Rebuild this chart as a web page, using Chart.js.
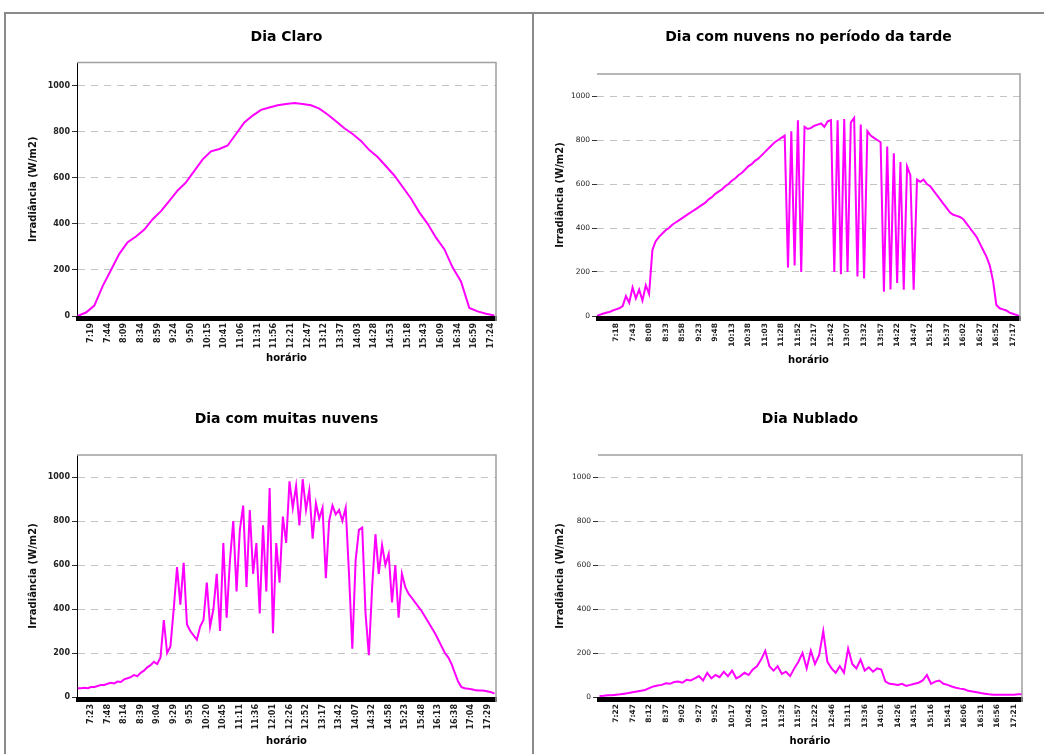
<!DOCTYPE html>
<html>
<head>
<meta charset="utf-8">
<script src="https://cdn.jsdelivr.net/npm/chart.js@4"></script>
<style>
  body { margin: 0; background: #fff; width: 1044px; height: 754px; overflow: hidden; position: relative; }
  .linha { position: absolute; background: #8a8a8a; }
  .caixa { position: absolute; }
</style>
</head>
<body>
<div class="linha" style="left:4px;top:12px;width:1040px;height:2px"></div>
<div class="linha" style="left:4px;top:12px;width:2px;height:742px"></div>
<div class="linha" style="left:532px;top:12px;width:2px;height:742px"></div>

<div class="caixa" style="left:8px;top:16px;width:522px;height:360px"><canvas id="claro"></canvas></div>
<div class="caixa" style="left:538px;top:16px;width:500px;height:360px"><canvas id="tarde"></canvas></div>
<div class="caixa" style="left:8px;top:396px;width:522px;height:358px"><canvas id="muitas"></canvas></div>
<div class="caixa" style="left:538px;top:396px;width:500px;height:358px"><canvas id="nublado"></canvas></div>

<script>
// rótulos do eixo x (um a cada ~25 min)
const rotulosClaro = ['7:19','7:44','8:09','8:34','8:59','9:24','9:50','10:15','10:41','11:06','11:31','11:56','12:21','12:47','13:12','13:37','14:03','14:28','14:53','15:18','15:43','16:09','16:34','16:59','17:24'];
const rotulosTarde = ['7:18','7:43','8:08','8:33','8:58','9:23','9:48','10:13','10:38','11:03','11:28','11:52','12:17','12:42','13:07','13:32','13:57','14:22','14:47','15:12','15:37','16:02','16:27','16:52','17:17'];
const rotulosMuitas = ['7:23','7:48','8:14','8:39','9:04','9:29','9:55','10:20','10:45','11:11','11:36','12:01','12:26','12:52','13:17','13:42','14:07','14:32','14:58','15:23','15:48','16:13','16:38','17:04','17:29'];
const rotulosNublado = ['7:22','7:47','8:12','8:37','9:02','9:27','9:52','10:17','10:42','11:07','11:32','11:57','12:22','12:46','13:11','13:36','14:01','14:26','14:51','15:16','15:41','16:06','16:31','16:56','17:21'];

// irradiância (W/m2), amostras a cada "passo" (em intervalos de rótulo)
const claroInicio = -0.8, claroPasso = 0.5;
const irradClaro = [
  0, 15, 45, 130, 200, 270, 320, 345, 375, 420,
  455, 500, 545, 580, 630, 680, 715, 725, 740, 790,
  840, 870, 895, 905, 915, 920, 925, 920, 915, 900,
  875, 845, 815, 790, 760, 720, 690, 650, 610, 560,
  510, 450, 400, 340, 290, 210, 150, 35, 20, 10,
  2
];

const tardeInicio = -1.2, tardePasso = 0.2;
const irradTarde = [
  0, 5, 10, 15, 18, 25, 30, 35, 45, 90,
  60, 130, 80, 120, 70, 140, 100, 300, 340, 360,
  375, 390, 400, 415, 425, 435, 445, 455, 465, 475,
  485, 495, 505, 515, 530, 540, 555, 565, 575, 590,
  600, 615, 625, 640, 650, 665, 680, 690, 705, 715,
  730, 745, 760, 775, 790, 800, 810, 820, 220, 840,
  230, 890, 200, 860, 850, 855, 865, 870, 875, 860,
  885, 890, 200, 890, 190, 895, 200, 880, 900, 180,
  870, 170, 840, 820, 810, 800, 790, 110, 770, 120,
  740, 150, 700, 120, 680, 640, 120, 620, 610, 620,
  600, 590, 570, 550, 530, 510, 490, 470, 460, 455,
  450, 440, 420, 400, 380, 360, 330, 300, 270, 230,
  160, 50, 35, 30, 25, 15, 10, 5, 0
];

const muitasInicio = -0.8, muitasPasso = 0.2;
const irradMuitas = [
  40, 40, 42, 40, 45, 45, 50, 55, 55, 60,
  65, 62, 70, 68, 80, 85, 90, 100, 95, 110,
  120, 135, 145, 160, 150, 180, 350, 200, 230, 400,
  590, 420, 610, 330, 300, 280, 260, 320, 350, 520,
  320, 400, 560, 300, 700, 360, 620, 800, 480, 760,
  870, 500, 850, 560, 700, 380, 780, 480, 950, 290,
  700, 520, 820, 700, 980, 860, 960, 780, 990, 850,
  940, 720, 880, 810, 860, 540, 800, 870, 830, 850,
  800, 860, 560, 220, 620, 760, 770, 380, 190, 500,
  740, 560, 690, 600, 650, 430, 600, 360, 560, 500,
  470, 450, 430, 410, 390, 365, 340, 315, 290, 260,
  230, 200, 180, 150, 110, 70, 45, 40, 38, 35,
  32, 30, 30, 28, 25, 22, 15
];

const nubladoInicio = -1.0, nubladoPasso = 0.25;
const irradNublado = [
  5, 6, 8, 8, 10, 12, 15, 18, 22, 25,
  28, 32, 40, 48, 52, 55, 62, 60, 68, 70,
  65, 78, 75, 85, 95, 75, 110, 85, 100, 90,
  115, 95, 120, 85, 95, 110, 100, 125, 140, 170,
  210, 140, 120, 140, 105, 115, 95, 130, 160, 200,
  130, 210, 150, 190, 300, 160, 130, 110, 140, 110,
  220, 150, 130, 170, 120, 135, 115, 130, 125, 70,
  60, 58, 55, 60, 50, 55, 60, 65, 75, 100,
  60, 70, 75, 60, 55, 48, 42, 38, 35, 28,
  25, 22, 18, 15, 12, 10, 10, 10, 10, 10,
  10, 12, 12
];

const fonte = '"DejaVu Sans", sans-serif';

// moldura da área do gráfico: barra preta embaixo, borda cinza em cima e à direita
const moldura = {
  id: 'moldura',
  beforeDatasetsDraw(chart) {
    const a = chart.chartArea, ctx = chart.ctx;
    ctx.save();
    ctx.fillStyle = '#000';
    ctx.fillRect(a.left - 1, a.bottom, a.right - a.left + 2, 5);
    ctx.restore();
  },
  afterDraw(chart) {
    const a = chart.chartArea, ctx = chart.ctx;
    ctx.save();
    ctx.strokeStyle = '#a0a0a0';
    ctx.lineWidth = 1.5;
    ctx.beginPath();
    ctx.moveTo(a.left, a.top);
    ctx.lineTo(a.right, a.top);
    ctx.lineTo(a.right, a.bottom + 5);
    ctx.stroke();
    ctx.restore();
  }
};

function grafico(id, titulo, rotulos, inicio, passo, valores, o) {
  new Chart(document.getElementById(id), {
    type: 'line',
    data: {
      datasets: [{
        data: valores.map((v, i) => ({ x: inicio + i * passo, y: v })),
        borderColor: '#ff00ff',
        borderWidth: 2,
        pointRadius: 0,
        tension: 0
      }]
    },
    options: {
      responsive: true,
      maintainAspectRatio: false,
      animation: false,
      layout: { padding: o.pad },
      plugins: {
        legend: { display: false },
        tooltip: { enabled: false },
        title: {
          display: true, text: titulo, fullSize: false, color: '#000',
          font: { family: fonte, size: 14, weight: 'bold' },
          padding: o.tpad
        }
      },
      scales: {
        x: {
          type: 'linear', min: o.xmin, max: o.xmax,
          afterBuildTicks: s => { s.ticks = rotulos.map((_, i) => ({ value: i })); },
          afterFit: s => { s.height = o.xh; },
          grid: { display: false, drawTicks: false },
          border: { display: false },
          ticks: {
            autoSkip: false, minRotation: 90, maxRotation: 90, padding: 7,
            color: '#222', font: { family: fonte, size: o.xfont, weight: 'bold' },
            callback: v => rotulos[v]
          },
          title: {
            display: true, text: 'horário', color: '#000',
            font: { family: fonte, size: 10, weight: 'bold' },
            padding: { top: 2, bottom: 4 }
          }
        },
        y: {
          min: 0, max: 1100,
          afterFit: s => { s.width = o.yw; },
          grid: { color: '#c4c4c4', lineWidth: 1, tickLength: 5, tickColor: '#333', tickBorderDash: [] },
          border: { display: o.eixo, color: '#000', width: 1, dash: [7, 6] },
          ticks: {
            stepSize: 200, includeBounds: false, padding: 2,
            color: '#222', font: { family: fonte, size: o.yfont, weight: o.yweight },
            callback: v => String(v)
          },
          title: {
            display: true, text: 'Irradiância (W/m2)', color: '#111',
            font: { family: fonte, size: 10, weight: 'bold' },
            padding: { top: 4, bottom: 4 }
          }
        }
      }
    },
    plugins: [moldura]
  });
}

grafico('claro', 'Dia Claro', rotulosClaro, claroInicio, claroPasso, irradClaro, {
  pad: { left: 15, right: 34, top: 0, bottom: 8 }, tpad: { top: 13, bottom: 16.8 },
  xmin: -0.84, xmax: 24.3, xh: 52, yw: 54, xfont: 8, yfont: 8, yweight: 'bold', eixo: true
});
grafico('tarde', 'Dia com nuvens no período da tarde', rotulosTarde, tardeInicio, tardePasso, irradTarde, {
  pad: { left: 12, right: 18, top: 0, bottom: 6 }, tpad: { top: 13, bottom: 28.2 },
  xmin: -1.15, xmax: 24.43, xh: 54, yw: 47, xfont: 7.5, yfont: 7.5, yweight: 'normal', eixo: false
});
grafico('muitas', 'Dia com muitas nuvens', rotulosMuitas, muitasInicio, muitasPasso, irradMuitas, {
  pad: { left: 15, right: 34, top: 0, bottom: 3 }, tpad: { top: 15, bottom: 27.2 },
  xmin: -0.85, xmax: 24.49, xh: 54, yw: 54, xfont: 8, yfont: 8, yweight: 'bold', eixo: true
});
grafico('nublado', 'Dia Nublado', rotulosNublado, nubladoInicio, nubladoPasso, irradNublado, {
  pad: { left: 12, right: 16, top: 0, bottom: 3 }, tpad: { top: 15, bottom: 27.2 },
  xmin: -1.09, xmax: 24.49, xh: 54, yw: 48, xfont: 7.5, yfont: 7.5, yweight: 'normal', eixo: false
});
</script>
</body>
</html>
